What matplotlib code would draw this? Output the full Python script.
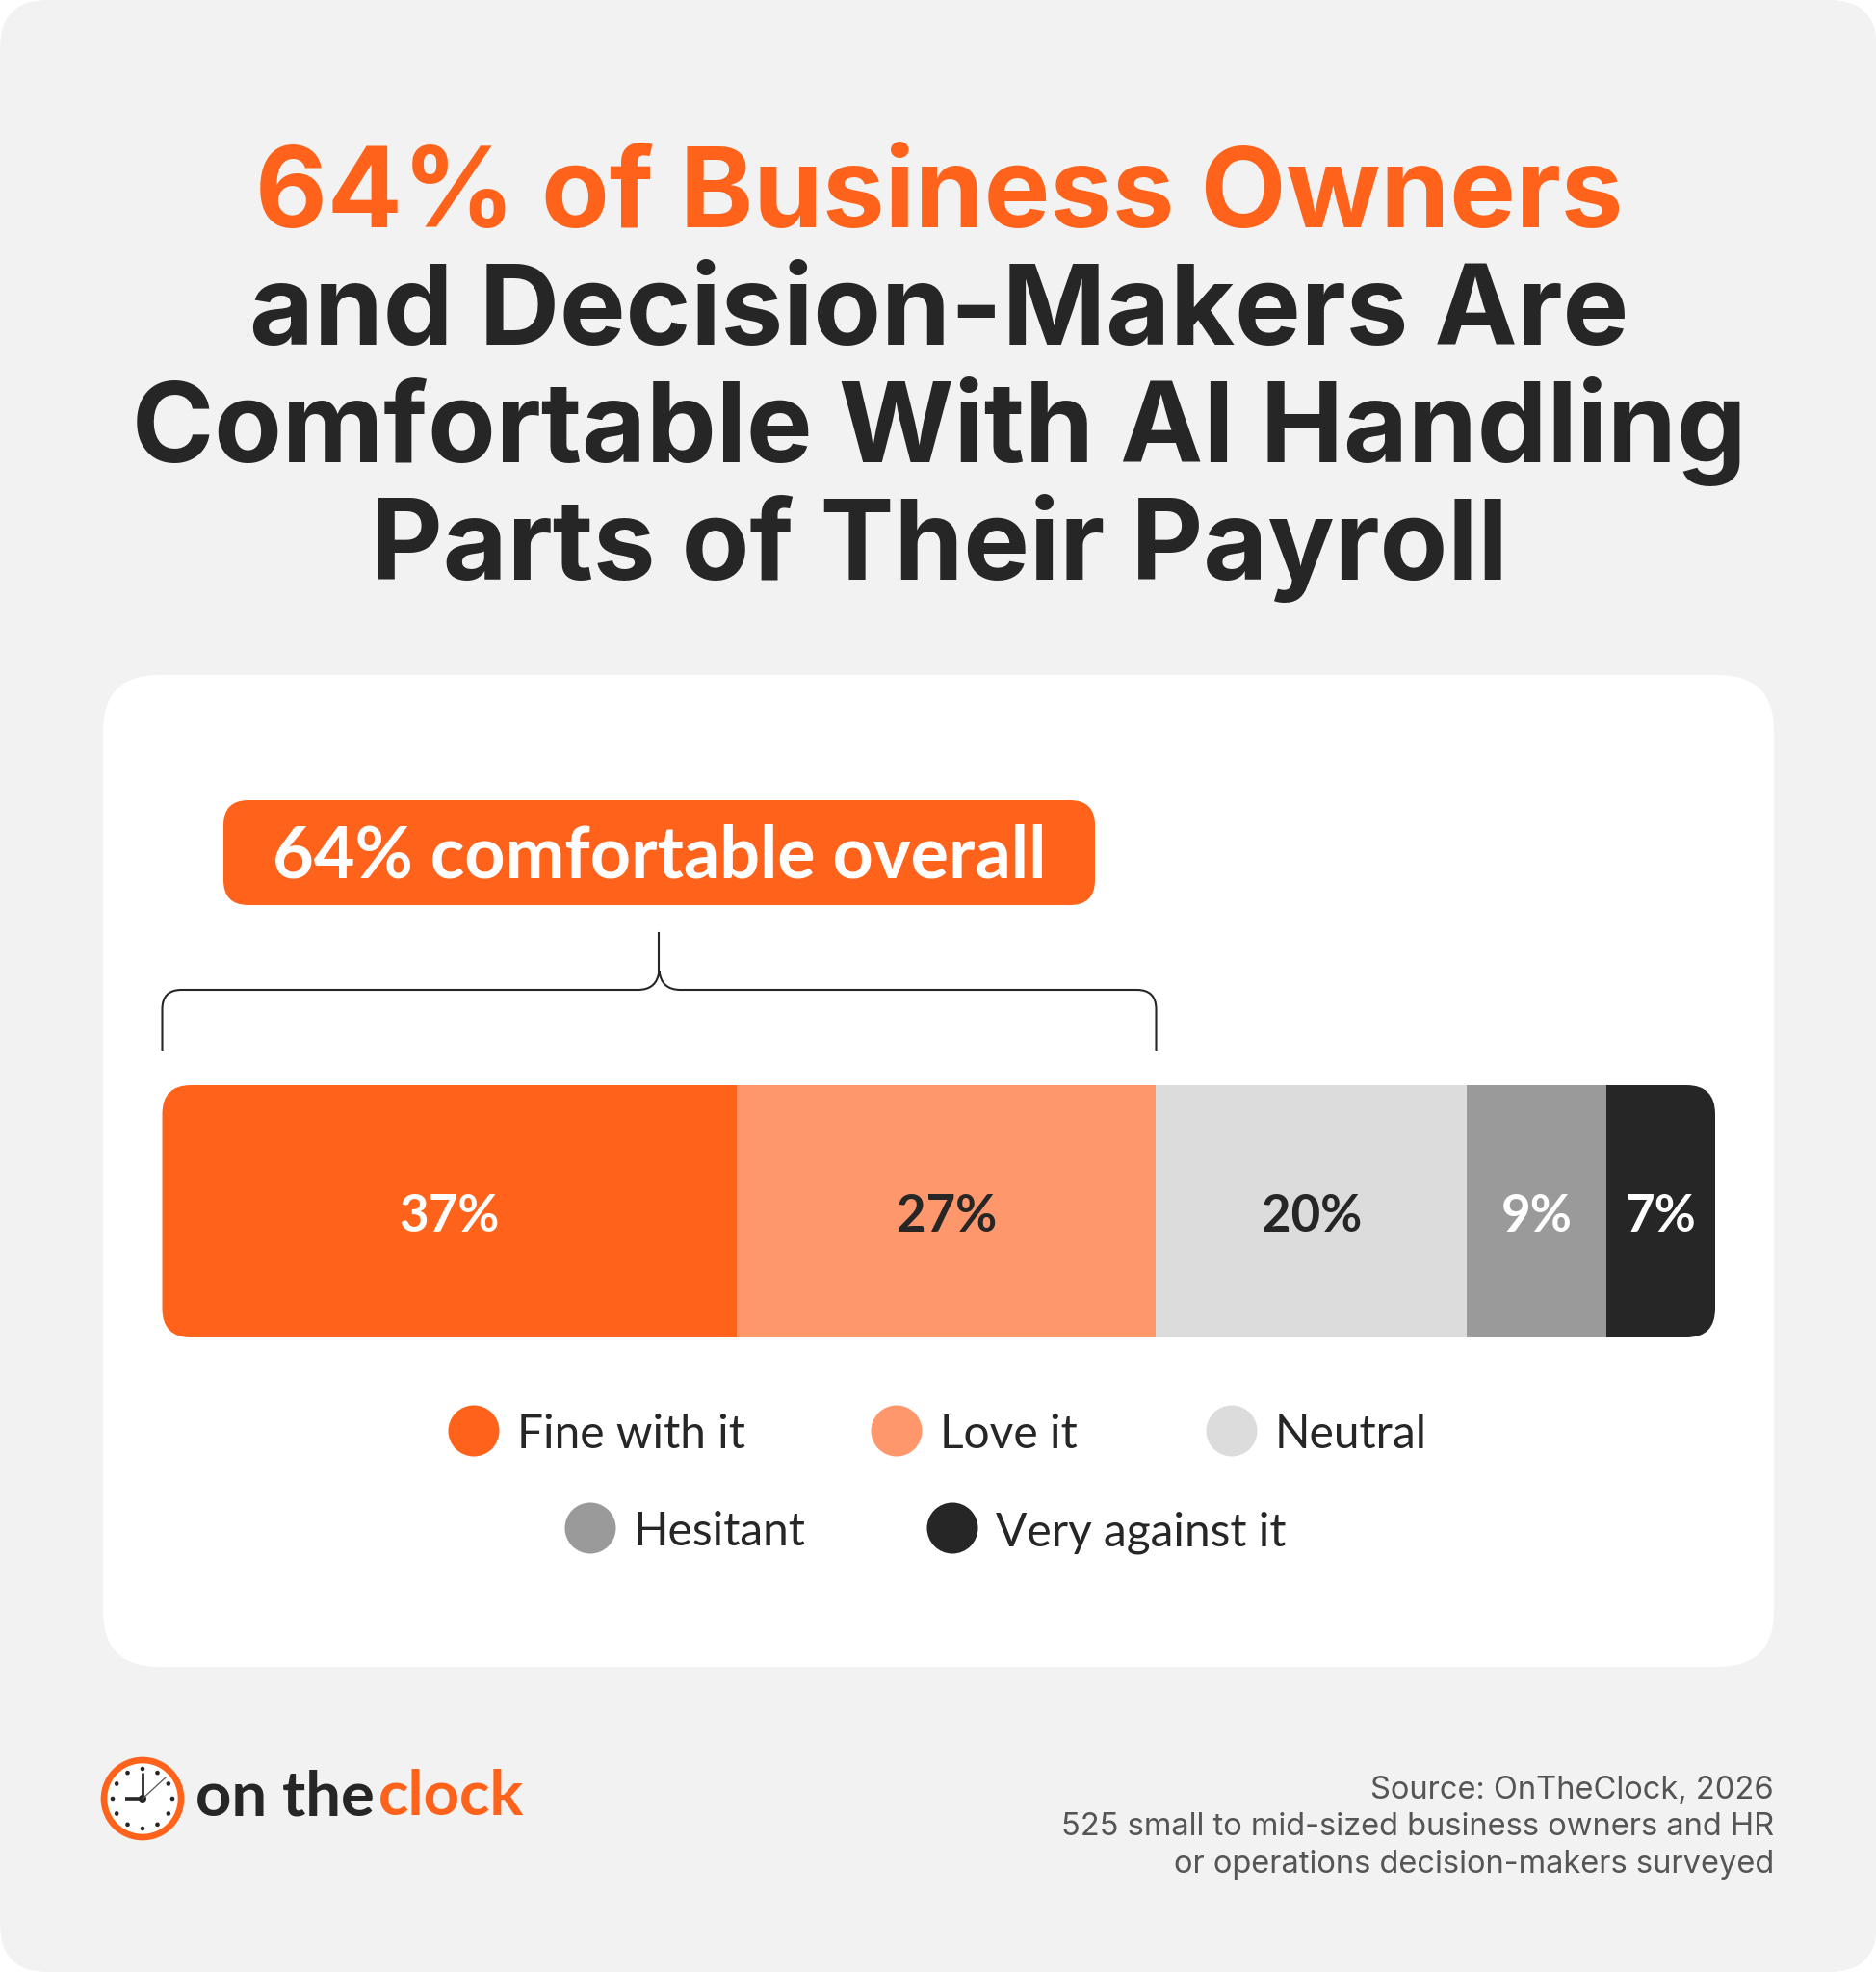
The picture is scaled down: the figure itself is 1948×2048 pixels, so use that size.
import numpy as np
import matplotlib
matplotlib.use("Agg")
import matplotlib.pyplot as plt
from matplotlib.patches import FancyBboxPatch, Circle, PathPatch
from matplotlib.path import Path

# ---- data ----
categories = ["Fine with it", "Love it", "Neutral", "Hesitant", "Very against it"]
shares = [37, 27, 20, 9, 7]
bar_colors = ["#ff631b", "#ff976c", "#dcdcdc", "#9a9a9a", "#262626"]
label_colors = ["white", "#262626", "#262626", "white", "white"]
comfortable_overall = shares[0] + shares[1]

title_lines = ["64% of Business Owners", "and Decision-Makers Are",
               "Comfortable With AI Handling", "Parts of Their Payroll"]
source_lines = ["Source: OnTheClock, 2026",
                "525 small to mid-sized business owners and HR",
                "or operations decision-makers surveyed"]

ORANGE = "#ff631b"
DARK = "#262626"
plt.rcParams["font.family"] = ["Lato", "DejaVu Sans"]
INTER = ["Inter", "DejaVu Sans"]

W, H = 1949, 2048
fig = plt.figure(figsize=(W / 100, H / 100), dpi=100)
fig.patch.set_facecolor("white")

# full-figure canvas in pixel units (y downwards)
ax = fig.add_axes([0, 0, 1, 1])
ax.set_xlim(0, W)
ax.set_ylim(H, 0)
ax.axis("off")

ax.add_patch(FancyBboxPatch((0, 0), W, H, boxstyle="round,pad=0,rounding_size=50",
                            facecolor="#f2f2f2", edgecolor="none"))
ax.add_patch(FancyBboxPatch((107, 701), 1735, 1030, boxstyle="round,pad=0,rounding_size=58",
                            facecolor="white", edgecolor="none"))

# title
for i, line in enumerate(title_lines):
    ax.text(975, 236 + i * 122, line, ha="center", va="baseline", fontsize=83,
            fontweight="bold", family=INTER, color=ORANGE if i == 0 else DARK)

# ---- stacked bar ----
bx0, bx1, by0, by1 = 168.5, 1781, 1127, 1389
bax = fig.add_axes([bx0 / W, 1 - by1 / H, (bx1 - bx0) / W, (by1 - by0) / H])
bax.set_xlim(0, 100)
bax.set_ylim(0, 1)
bax.axis("off")
lefts = np.concatenate([[0], np.cumsum(shares)[:-1]])
bars = bax.barh(0.5, shares, left=lefts, height=1, color=bar_colors, linewidth=0)

clip = FancyBboxPatch((bx0, by0), bx1 - bx0, by1 - by0,
                      boxstyle="round,pad=0,rounding_size=30",
                      transform=ax.transData, facecolor="none", edgecolor="none")
for b in bars:
    b.set_clip_path(clip)

for left, val, col in zip(lefts, shares, label_colors):
    bax.text(left + val / 2, 0.42, f"{val}%", ha="center", va="baseline",
             fontsize=38, fontweight="bold", color=col)

# bracket over the comfortable share (derived from bar scale)
def to_px(xval):
    disp = bax.transData.transform((xval, 0))
    return ax.transData.inverted().transform(disp)[0]

xl, xr, xc = to_px(0), to_px(comfortable_overall), to_px(comfortable_overall / 2)
yh, ybot, ytip, ytop, r, cw = 1028, 1091, 1008, 969, 20, 22
verts = [(xl, ybot), (xl, yh + r), (xl, yh), (xl + r, yh),
         (xc - cw, yh), (xc - 2, yh), (xc, ytip),
         (xc, ytip), (xc + 2, yh), (xc + cw, yh),
         (xr - r, yh), (xr, yh), (xr, yh + r), (xr, ybot)]
codes = [Path.MOVETO, Path.LINETO, Path.CURVE3, Path.CURVE3,
         Path.LINETO, Path.CURVE3, Path.CURVE3,
         Path.MOVETO, Path.CURVE3, Path.CURVE3,
         Path.LINETO, Path.CURVE3, Path.CURVE3, Path.LINETO]
ax.add_patch(PathPatch(Path(verts, codes), facecolor="none", edgecolor=DARK, lw=1.5))
ax.plot([xc, xc], [ytip, ytop], color=DARK, lw=1.5)

# badge
bw, bh = 905, 109
ax.add_patch(FancyBboxPatch((xc - bw / 2, 831), bw, bh, boxstyle="round,pad=0,rounding_size=26",
                            facecolor=ORANGE, edgecolor="none"))
ax.text(xc, 912, f"{comfortable_overall}% comfortable overall", ha="center", va="baseline",
        fontsize=53, fontweight="bold", color="white")

# legend
legend_pos = [(492, 1486), (931, 1486), (1279, 1486), (613, 1587), (989, 1587)]
for (cx, cy), name, col in zip(legend_pos, categories, bar_colors):
    ax.add_patch(Circle((cx, cy), 26.5, facecolor=col, edgecolor="none"))
    ax.text(cx + 45, cy + 18, name, ha="left", va="baseline", fontsize=34.5, color=DARK)

# source
for i, line in enumerate(source_lines):
    ax.text(1842, 1868 + i * 38.5, line, ha="right", va="baseline", fontsize=23.5,
            family=INTER, color="#555555")

# logo
ccx, ccy = 148, 1868
ax.add_patch(Circle((ccx, ccy), 40, facecolor="white", edgecolor=ORANGE, lw=4.8))
for k in range(12):
    a = np.deg2rad(90 - 30 * k)
    ax.add_patch(Circle((ccx + 31 * np.cos(a), ccy - 31 * np.sin(a)), 2.3,
                        facecolor=DARK, edgecolor="none"))
ax.plot([ccx, ccx - 18], [ccy, ccy], color=DARK, lw=2.6, solid_capstyle="butt")
ax.plot([ccx, ccx], [ccy, ccy - 27], color=DARK, lw=2.0, solid_capstyle="butt")
ax.plot([ccx, ccx + 24], [ccy, ccy - 22], color="#555555", lw=0.9)
ax.add_patch(Circle((ccx, ccy), 4, facecolor=DARK, edgecolor="none"))
ax.text(203, 1885, "on the", ha="left", va="baseline", fontsize=47, fontweight="bold", color=DARK)
ax.text(393, 1885, "clock", ha="left", va="baseline", fontsize=47, fontweight="bold", color=ORANGE)

fig.savefig("out.png", dpi=100, facecolor="white")
